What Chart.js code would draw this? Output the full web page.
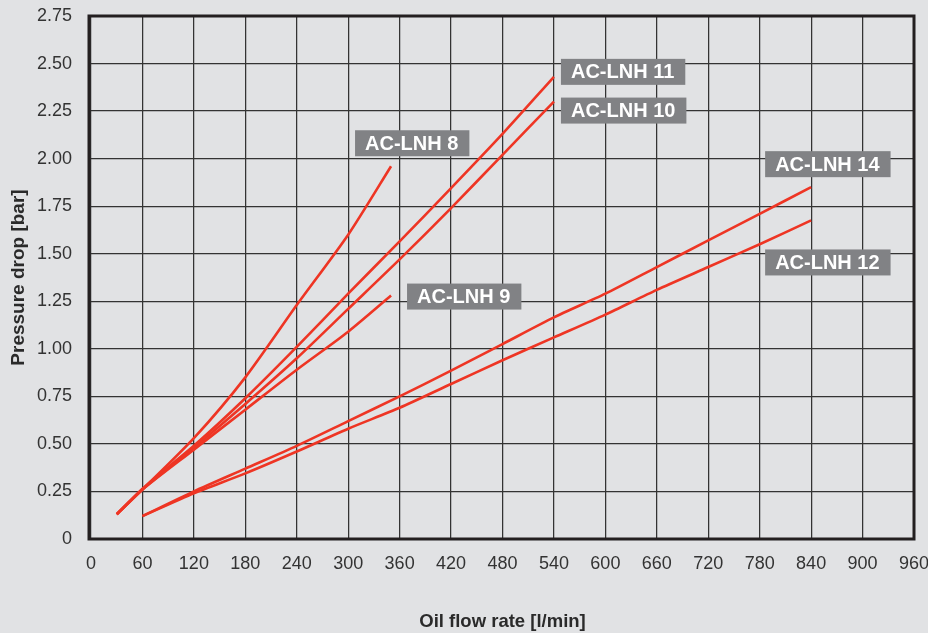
<!DOCTYPE html>
<html>
<head>
<meta charset="utf-8">
<script src="https://cdn.jsdelivr.net/npm/chart.js@4/dist/chart.umd.min.js"></script>
<style>
    html, body { margin: 0; padding: 0; background: #e1e2e4; }
    #wrap { width: 928px; height: 633px; }
</style>
</head>
<body>
<div id="wrap"><canvas id="dropChart" width="928" height="633"></canvas></div>
<script>
// values (flow l/min -> pressure drop bar)
const flowLNH8 = [30, 60, 120, 180, 240, 300, 350];
const dropLNH8 = [0.13, 0.26, 0.53, 0.85, 1.23, 1.60, 1.96];

const flowLNH9 = [30, 60, 120, 180, 240, 300, 350];
const dropLNH9 = [0.13, 0.26, 0.47, 0.68, 0.89, 1.09, 1.28];

const flowLNH10 = [30, 60, 120, 180, 240, 300, 360, 420, 480, 540];
const dropLNH10 = [0.13, 0.26, 0.48, 0.71, 0.95, 1.21, 1.47, 1.74, 2.02, 2.30];

const flowLNH11 = [30, 60, 120, 180, 240, 300, 360, 420, 480, 540];
const dropLNH11 = [0.13, 0.265, 0.49, 0.74, 1.01, 1.29, 1.565, 1.845, 2.13, 2.43];

const flowLNH12 = [60, 120, 180, 240, 300, 360, 420, 480, 540, 600, 660, 720, 780, 840];
const dropLNH12 = [0.12, 0.24, 0.345, 0.46, 0.58, 0.69, 0.815, 0.94, 1.06, 1.18, 1.31, 1.43, 1.55, 1.675];

const flowLNH14 = [60, 120, 180, 240, 300, 360, 420, 480, 540, 600, 660, 720, 780, 840];
const dropLNH14 = [0.12, 0.25, 0.37, 0.49, 0.62, 0.75, 0.885, 1.025, 1.165, 1.29, 1.43, 1.57, 1.71, 1.85];

const seriesNames = ["AC-LNH 8", "AC-LNH 9", "AC-LNH 10", "AC-LNH 11", "AC-LNH 12", "AC-LNH 14"];

const xMin = 0, xMax = 960, xStep = 60;
const yMin = 0, yMax = 2.75, yStep = 0.25;

const red = "#ee3524";
const ink = "#2a2a2a";

function toPoints(xs, ys) {
    let pts = [];
    for (let i = 0; i < xs.length; i++) {
        pts.push({ x: xs[i], y: ys[i] });
    }
    return pts;
}

// where each tag box sits relative to the end of its line (px)
const tagOffsets = [[-36, -23], [16, 1], [7, 9], [7, -5], [-46, 42], [-46, -23]];

const allFlows = [flowLNH8, flowLNH9, flowLNH10, flowLNH11, flowLNH12, flowLNH14];
const allDrops = [dropLNH8, dropLNH9, dropLNH10, dropLNH11, dropLNH12, dropLNH14];

const datasets = seriesNames.map((name, i) => ({
    label: name,
    data: toPoints(allFlows[i], allDrops[i]),
    borderColor: red,
    borderWidth: 2.6,
    pointRadius: 0,
    tension: 0.25,
    fill: false,
    tagOffset: tagOffsets[i],
}));

// frame around the plot + grey name tags
const framePlugin = {
    id: "frame",
    beforeDatasetsDraw(chart) {
        const { ctx, chartArea: a } = chart;
        ctx.save();
        ctx.strokeStyle = "#231f20";
        ctx.lineWidth = 3;
        ctx.strokeRect(a.left - 2, a.top, a.right - a.left + 2, a.bottom - a.top);
        ctx.restore();
    },
    afterDatasetsDraw(chart) {
        const { ctx } = chart;
        ctx.save();
        ctx.font = "bold 20px 'Liberation Sans', Arial, sans-serif";
        ctx.textBaseline = "middle";
        chart.data.datasets.forEach((ds, i) => {
            const meta = chart.getDatasetMeta(i);
            const last = meta.data[meta.data.length - 1];
            const w = ctx.measureText(ds.label).width + 21;
            const h = 26;
            const left = last.x + ds.tagOffset[0];
            const mid = last.y + ds.tagOffset[1];
            ctx.fillStyle = "#818285";
            ctx.fillRect(left, mid - h / 2, w, h);
            ctx.fillStyle = "#ffffff";
            ctx.fillText(ds.label, left + 10, mid + 1);
        });
        ctx.restore();
    },
};

const canvas = document.getElementById("dropChart");

new Chart(canvas, {
    type: "line",
    data: { datasets: datasets },
    options: {
        responsive: false,
        animation: false,
        layout: { padding: { left: 0, right: 14, top: 16, bottom: 0 } },
        plugins: {
            legend: { display: false },
            tooltip: { enabled: false },
        },
        scales: {
            x: {
                type: "linear",
                min: xMin,
                max: xMax,
                ticks: {
                    stepSize: xStep,
                    color: "#333",
                    padding: 14,
                    maxRotation: 0,
                    font: { family: "'Liberation Sans', Arial, sans-serif", size: 18 },
                },
                grid: { color: "#333333", lineWidth: 1.25, drawTicks: false },
                border: { display: false },
                title: {
                    display: true,
                    text: "Oil flow rate [l/min]",
                    color: ink,
                    font: { family: "'Liberation Sans', Arial, sans-serif", size: 18.5, weight: "bold" },
                    padding: { top: 38, bottom: 0 },
                },
                afterFit(scale) {
                    scale.height = 94;
                    scale.paddingLeft = 0;
                    scale.paddingRight = 0;
                },
            },
            y: {
                min: yMin,
                max: yMax,
                ticks: {
                    stepSize: yStep,
                    color: "#333",
                    padding: 19,
                    font: { family: "'Liberation Sans', Arial, sans-serif", size: 18 },
                    callback: (v) => (v === 0 ? "0" : v.toFixed(2)),
                },
                grid: { color: "#333333", lineWidth: 1.25, drawTicks: false },
                border: { display: false },
                title: {
                    display: true,
                    text: "Pressure drop [bar]",
                    color: ink,
                    font: { family: "'Liberation Sans', Arial, sans-serif", size: 19, weight: "bold" },
                    padding: { top: 7, bottom: 0 },
                },
                afterFit(scale) {
                    scale.width = 91;
                    scale.paddingTop = 0;
                    scale.paddingBottom = 0;
                },
            },
        },
    },
    plugins: [framePlugin],
});
</script>
</body>
</html>
